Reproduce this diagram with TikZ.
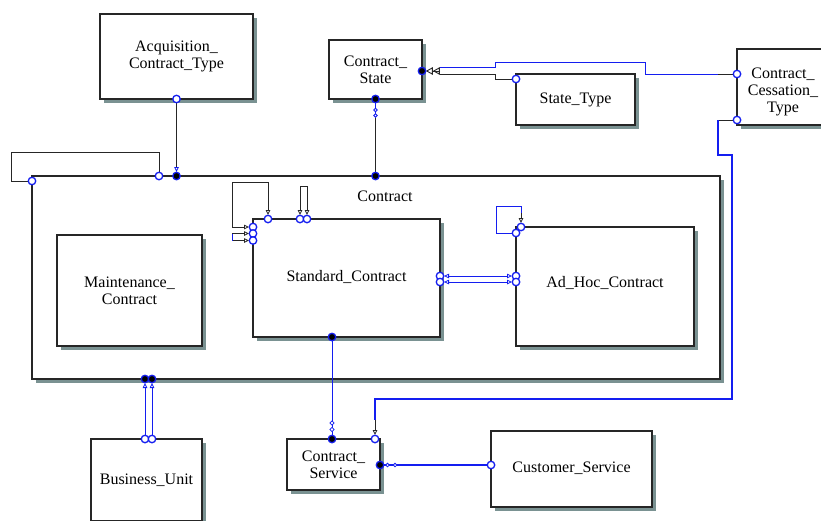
\documentclass[tikz,border=0pt]{standalone}
\usepackage{fontspec}
\setmainfont{Liberation Serif}
\usetikzlibrary{arrows.meta,shadows,calc,shapes.geometric}
\definecolor{shd}{RGB}{122,146,146}
\definecolor{lnk}{RGB}{20,30,240}
\begin{document}
\begin{tikzpicture}[x=1pt,y=-1pt,
  txt/.style={font=\fontsize{16}{17}\selectfont, align=center},
  ent/.style={txt, draw=black!85, line width=1.2pt, fill=white, inner sep=0pt, outer sep=0pt,
    general shadow={fill=shd, shadow xshift=3.5pt, shadow yshift=-3.5pt}},
  lk/.style={draw=black!85, line width=0.9pt},
  bl/.style={draw=lnk, line width=1pt},
  ocirc/.style={circle, draw=lnk, fill=white, line width=1.3pt, minimum size=7.5pt, inner sep=0pt},
  fdot/.style={circle, draw=lnk, fill=black, line width=1.3pt, minimum size=7.5pt, inner sep=0pt},
  tinyc/.style={circle, draw=lnk, fill=white, line width=0.8pt, minimum size=3.6pt, inner sep=0pt},
  oa/.tip={Triangle[open,length=5pt,width=4.5pt,line width=0.8pt]},
  ob/.tip={Triangle[open,length=7pt,width=7.5pt,line width=0.9pt]}
]
\useasboundingbox (0,0) rectangle (821,520);

% entities
\node[ent, minimum width=153pt, minimum height=85pt] (acq) at (176.5,56.5) {Acquisition\_\\Contract\_Type};
\node[ent, minimum width=93pt, minimum height=59pt] (cstate) at (375.5,69.5) {Contract\_\\State};
\node[ent, minimum width=119pt, minimum height=51pt] (stype) at (575.5,99.5) {State\_Type};
\node[ent, minimum width=92pt, minimum height=76pt] (cess) at (783,87) {};
\node[txt] (cesslbl) at (783,91.5) {Contract\_\\Cessation\_\\Type};
\node[ent, minimum width=688pt, minimum height=203pt] (contract) at (376,277.5) {};
\node[txt] (contractlbl) at (385,196) {Contract};
\node[ent, minimum width=145pt, minimum height=111pt] (maint) at (129.5,290.5) {Maintenance\_\\Contract};
\node[ent, minimum width=187pt, minimum height=118pt] (std) at (346.5,278) {\raisebox{4pt}{Standard\_Contract}};
\node[ent, minimum width=178pt, minimum height=119pt] (adhoc) at (605,286.5) {\raisebox{9pt}{Ad\_Hoc\_Contract}};
\node[ent, minimum width=93pt, minimum height=51pt] (csvc) at (333.5,464.5) {Contract\_\\Service};
\node[ent, minimum width=161pt, minimum height=76pt] (cust) at (571.5,469) {\raisebox{4pt}{Customer\_Service}};
\node[ent, minimum width=111pt, minimum height=82pt] (bu) at (146.5,480) {Business\_Unit};

% coordinates of link ends
\coordinate (cl1) at ($(contract.north west)+(0,5)$);
\coordinate (cl2) at ($(contract.north west)+(127,0)$);
\coordinate (a1) at (acq.south);
\coordinate (a2) at (acq.south |- contract.north);
\coordinate (b1) at (cstate.south);
\coordinate (b2) at (cstate.south |- contract.north);
\coordinate (c1) at ($(cess.north west)+(0,25)$);
\coordinate (c2) at ($(cess.south west)+(0,-5)$);
\coordinate (cd) at ($(cstate.east)+(0,1.5)$);
\coordinate (s1) at ($(stype.north west)+(0,5)$);
\coordinate (d1) at ($(csvc.north east)+(-5,0)$);
\coordinate (st1) at ($(std.north west)+(15,0)$);
\coordinate (st2) at ($(std.north west)+(47,0)$);
\coordinate (st3) at ($(std.north west)+(54,0)$);
\coordinate (sl1) at ($(std.north west)+(0,8)$);
\coordinate (sl2) at ($(std.north west)+(0,14.5)$);
\coordinate (sl3) at ($(std.north west)+(0,21.5)$);
\coordinate (h1) at ($(adhoc.north west)+(5,0)$);
\coordinate (h2) at ($(adhoc.north west)+(0,6)$);
\coordinate (x1) at ($(std.north east)+(0,57)$);
\coordinate (x2) at ($(std.north east)+(0,63)$);
\coordinate (y1) at (x1 -| adhoc.west);
\coordinate (y2) at (x2 -| adhoc.west);
\coordinate (e1) at ($(std.south west)+(79,0)$);
\coordinate (e2) at (e1 |- csvc.north);
\coordinate (f1) at ($(cust.west)+(0,-4)$);
\coordinate (f2) at (f1 -| csvc.east);
\coordinate (g1) at ($(bu.north west)+(54,0)$);
\coordinate (g2) at ($(bu.north west)+(61,0)$);
\coordinate (k1) at (g1 |- contract.south);
\coordinate (k2) at (g2 |- contract.south);

% Contract self loop
\draw[lk] (cl1) -- ++(-21,0) |- ($(cl2)+(0,-24)$) -- (cl2);
% Acquisition -> Contract
\draw[lk, -{oa[color=lnk]}, shorten >=4pt] (a1) -- (a2);
% Contract_State -> Contract
\draw[lk] (b1) -- (b2);
\draw[bl] (b1) -- ++(0,19);
\node[tinyc] (bt1) at ($(b1)+(0,11)$) {};
\node[tinyc] (bt2) at ($(b1)+(0,16.5)$) {};
% Cessation -> Contract_State
\draw[lk] (c1) -- ++(-19,0);
\draw[bl] ($(c1)+(-19,0)$) -- (645,74) -- (645,62) -- (495,62) -- (495,67.5) -- (440,67.5);
% State_Type -> Contract_State
\draw[lk] (s1) -- (495,79) -- (495,74.5) -- (440,74.5);
\draw[lk, -{ob[]ob[]}, shorten >=3.8pt] (440,71) -- (cd);
% Cessation -> Contract_Service
\draw[lk] (c2) -- ++(-19,0);
\draw[draw=lnk, line width=2pt] ($(c2)+(-19,0)$) -- ++(0,35) -- ++(14,0) |- (d1 |- 0,399) -- (d1 |- 0,420);
\draw[lk, -{oa}, shorten >=4pt] (d1 |- 0,420) -- (d1);
% Standard_Contract self loops
\draw[lk, {oa}-{oa}, shorten <=4pt, shorten >=4pt] (st1) -- ++(0,-37) -| ($(sl1)+(-21,0)$) -- (sl1);
\draw[lk, {oa}-{oa}, shorten <=4pt, shorten >=4pt] (sl2) -- ++(-21,0) -- ($(sl3)+(-21,0)$) -- (sl3);
\draw[bl] ($(sl2)+(-21,0)$) -- ($(sl3)+(-21,0)$);
\draw[lk, {oa}-{oa}, shorten <=4pt, shorten >=4pt] (st2) -- ++(0,-33) -- ($(st3)+(0,-33)$) -- (st3);
% Ad_Hoc self loop
\draw[bl] (h2) -- ++(-20,0) |- ($(h1)+(0,-21)$) -- ($(h1)+(0,-14)$);
\draw[lk, -{oa}, shorten >=4pt] ($(h1)+(0,-14)$) -- (h1);
% Standard <-> Ad_Hoc
\draw[bl, {oa}-{oa}, shorten <=4pt, shorten >=4pt] (x1) -- (y1);
\draw[bl, {oa}-{oa}, shorten <=4pt, shorten >=4pt] (x2) -- (y2);
% Standard -> Contract_Service
\draw[bl] (e1) -- (e2);
\node[tinyc, diamond, minimum size=4.5pt] (et1) at ($(e2)+(0,-16)$) {};
\node[tinyc, diamond, minimum size=4.5pt] (et2) at ($(e2)+(0,-9.5)$) {};
% Customer -> Contract_Service
\draw[draw=lnk, line width=1.8pt] (f1) -- (f2);
\node[tinyc] (ft1) at ($(f2)+(7.5,0)$) {};
\node[tinyc] (ft2) at ($(f2)+(15,0)$) {};
% Business_Unit -> Contract
\draw[bl, -{oa}, shorten >=4pt] (g1) -- (k1);
\draw[bl, -{oa}, shorten >=4pt] (g2) -- (k2);

% end markers
\foreach \p in {cl1,cl2,a1,s1,c1,c2,d1,st1,st2,st3,sl1,sl2,sl3,h1,h2,x1,x2,y1,y2,f1,g1,g2}
  \node[ocirc] (m\p) at (\p) {};
\foreach \p in {a2,b1,b2,cd,e1,e2,f2,k1,k2}
  \node[fdot] (n\p) at (\p) {};
\end{tikzpicture}
\end{document}
